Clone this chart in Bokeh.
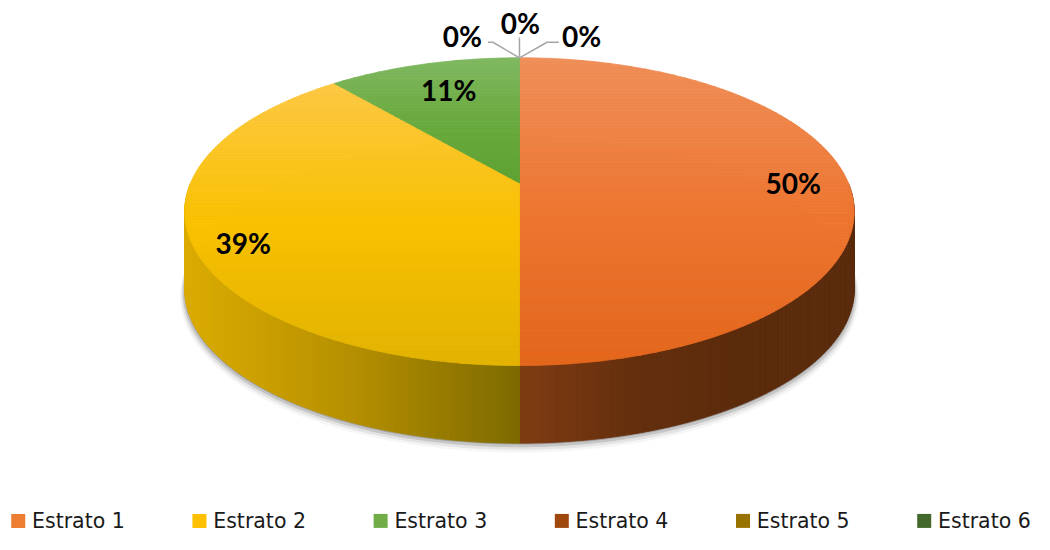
import numpy as np
from bokeh.plotting import figure
from bokeh.models import Range1d, ColumnDataSource
from bokeh.core.properties import value
from bokeh.embed import file_html
from bokeh.resources import INLINE

# ---------------- data ----------------
categories = ["Estrato 1", "Estrato 2", "Estrato 3", "Estrato 4", "Estrato 5", "Estrato 6"]
counts = [9, 7, 2, 0, 0, 0]

# ---------------- styles ----------------
legend_colors = ["#ED7D31", "#FFC000", "#70AD47", "#9E480E", "#997300", "#43682B"]
top_stops = [
    ["#EF8E58", "#EE7631", "#E3661B"],
    ["#FCC844", "#F9C100", "#E2B300"],
    ["#80B862", "#6AAA3E", "#5EA233"],
    ["#B05A20", "#9E480E", "#8A3E0C"],
    ["#A88010", "#997300", "#876500"],
    ["#4E7834", "#43682B", "#3A5A25"],
]
wall_stops = [
    ["#803C12", "#652F0D", "#5B2B0C", "#5B2B0C"],
    ["#DBAB00", "#B58F00", "#7D6A00"],
    ["#5E9A34", "#3F6A22"],
    ["#6A300A", "#4A2207"],
    ["#6A5000", "#4A3800"],
    ["#2E481E", "#203315"],
]
# small nudges (px) of the inside labels from their radial anchor
label_nudge = [(4, 0), (-9, 17), (10, 7), (0, 0), (0, 0), (0, 0)]

# geometry (screen px of the 1050x550 picture)
CX, CY, A, B, K, DEPTH = 527.0, 188.0, 334.0, 153.0, 0.186, 80.0
LABEL_R = 0.82


def proj(theta_deg, r=1.0, z=0.0):
    th = np.radians(theta_deg)
    u = r * np.cos(th)
    v = r * np.sin(th)
    w = 1 + K * v
    return CX + A * u / w, CY - B * v / w + z


def h2r(h):
    h = h.lstrip("#")
    return np.array([int(h[i:i + 2], 16) for i in (0, 2, 4)], dtype=float)


def mix(stops, t):
    t = min(max(t, 0.0), 1.0)
    n = len(stops) - 1
    if n == 0:
        return stops[0]
    pos = t * n
    i = min(int(pos), n - 1)
    f = pos - i
    c = h2r(stops[i]) * (1 - f) + h2r(stops[i + 1]) * f
    return "#%02x%02x%02x" % tuple(int(round(x)) for x in c)


def clip(poly, y0, keep_above):
    out = []
    n = len(poly)
    for i in range(n):
        P = poly[i]
        Q = poly[(i + 1) % n]
        inP = P[1] >= y0 if keep_above else P[1] <= y0
        inQ = Q[1] >= y0 if keep_above else Q[1] <= y0
        if inP:
            out.append(P)
        if inP != inQ:
            t = (y0 - P[1]) / (Q[1] - P[1])
            out.append((P[0] + t * (Q[0] - P[0]), y0))
    return out


total = float(sum(counts))
starts, ends = [], []
acc = 0.0
for c in counts:
    starts.append(90 - 360 * acc / total)
    acc += c
    ends.append(90 - 360 * acc / total)

p = figure(width=1034, height=534, x_range=Range1d(0, 1050), y_range=Range1d(550, 0),
           output_backend="svg", toolbar_location=None, min_border=0)
p.axis.visible = False
p.grid.visible = False
p.outline_line_color = None
p.background_fill_color = "white"

# ---------------- shadow ----------------
th_all = np.linspace(0, 360, 361)
bx, by = proj(th_all, 1.0, DEPTH)
sh_xs, sh_ys, sh_a = [], [], []
for dy, s, a in [(1, 1.002, 0.35), (3, 1.006, 0.22), (5, 1.010, 0.12), (7, 1.014, 0.06)]:
    sh_xs.append(list(CX + (bx - CX) * s))
    sh_ys.append(list(CY + DEPTH + (by - CY - DEPTH) * s + dy))
    sh_a.append(a)
p.patches(xs="xs", ys="ys", fill_alpha="a", source=ColumnDataSource(dict(xs=sh_xs, ys=sh_ys, a=sh_a)),
          fill_color="#606060", line_color=None)

# ---------------- walls ----------------
w_xs, w_ys, w_c = [], [], []
for i in range(len(counts)):
    hi, lo = starts[i], ends[i]
    if hi - lo <= 0:
        continue
    for k in (-1, 0, 1):
        a0, a1 = max(lo, -180 + 360 * k), min(hi, 0 + 360 * k)
        if a1 - a0 <= 0:
            continue
        xa, _ = proj(a0)
        xb, _ = proj(a1)
        xmin, xmax = min(xa, xb), max(xa, xb)
        steps = np.arange(a0, a1, 1.0)
        for t0 in steps:
            t1 = min(t0 + 1.0, a1)
            x0, y0 = proj(t0)
            x1, y1 = proj(t1)
            w_xs.append([x0, x1, x1, x0])
            w_ys.append([y0, y1, y1 + DEPTH, y0 + DEPTH])
            tt = ((x0 + x1) / 2 - xmin) / max(xmax - xmin, 1e-6)
            w_c.append(mix(wall_stops[i], tt))
p.patches(xs="xs", ys="ys", fill_color="c", line_color="c", line_width=0.8,
          source=ColumnDataSource(dict(xs=w_xs, ys=w_ys, c=w_c)))

# ---------------- top faces ----------------
t_xs, t_ys, t_c = [], [], []
BAND = 3.0
for i in range(len(counts)):
    hi, lo = starts[i], ends[i]
    if hi - lo <= 0:
        continue
    n = int(hi - lo) + 2
    ang = np.linspace(hi, lo, n)
    ax, ay = proj(ang)
    poly = [(CX, CY)] + list(zip(ax, ay))
    ymin = min(pt[1] for pt in poly)
    ymax = max(pt[1] for pt in poly)
    y = ymin
    while y < ymax:
        y2 = min(y + BAND, ymax)
        band = clip(clip(poly, y, True), y2, False)
        if len(band) >= 3:
            t_xs.append([q[0] for q in band])
            t_ys.append([q[1] for q in band])
            t_c.append(mix(top_stops[i], ((y + y2) / 2 - ymin) / (ymax - ymin)))
        y = y2
p.patches(xs="xs", ys="ys", fill_color="c", line_color="c", line_width=0.8,
          source=ColumnDataSource(dict(xs=t_xs, ys=t_ys, c=t_c)))

# ---------------- data labels ----------------
pct = [("%d%%" % round(100 * c / total)) for c in counts]
lab_x, lab_y, lab_t = [], [], []
zero_offsets = [(-58, -22), (1, -36), (63, -22)]
lead_offsets = [[(0, 0), (-27, -16), (-32, -16)], [(0, 0), (0, -21)], [(0, 0), (28, -16), (40, -16)]]
lx_s, ly_s = [], []
z = 0
for i, c in enumerate(counts):
    mid = (starts[i] + ends[i]) / 2
    if c > 0:
        x, y = proj(mid, LABEL_R)
        x, y = x + label_nudge[i][0], y + label_nudge[i][1]
    else:
        px, py = proj(mid)
        ox, oy = zero_offsets[z % 3]
        x, y = px + ox, py + oy
        lx_s.append([px + a for a, b in lead_offsets[z % 3]])
        ly_s.append([py + b for a, b in lead_offsets[z % 3]])
        z += 1
    lab_x.append(float(x))
    lab_y.append(float(y))
    lab_t.append(pct[i])

p.multi_line(xs=lx_s, ys=ly_s, line_color="#A6A6A6", line_width=1.5)
p.text(x=lab_x, y=lab_y, text=lab_t, text_font=value("Lato"), text_font_style="bold",
       text_font_size="28px", text_align="center", text_baseline="middle", text_color="black")

# ---------------- legend ----------------
leg_x = [18 + 184 * i for i in range(len(categories))]
leg_y = [536] * len(categories)
p.scatter(x=leg_x, y=leg_y, marker="square", size=14, fill_color=legend_colors, line_color=None)
p.text(x=[x + 14 for x in leg_x], y=leg_y, text=categories, text_font=value("DejaVu Sans"),
       text_font_size="20.5px", text_align="left", text_baseline="middle", text_color="#1a1a1a")

open("out.html", "w").write(file_html(p, INLINE))
